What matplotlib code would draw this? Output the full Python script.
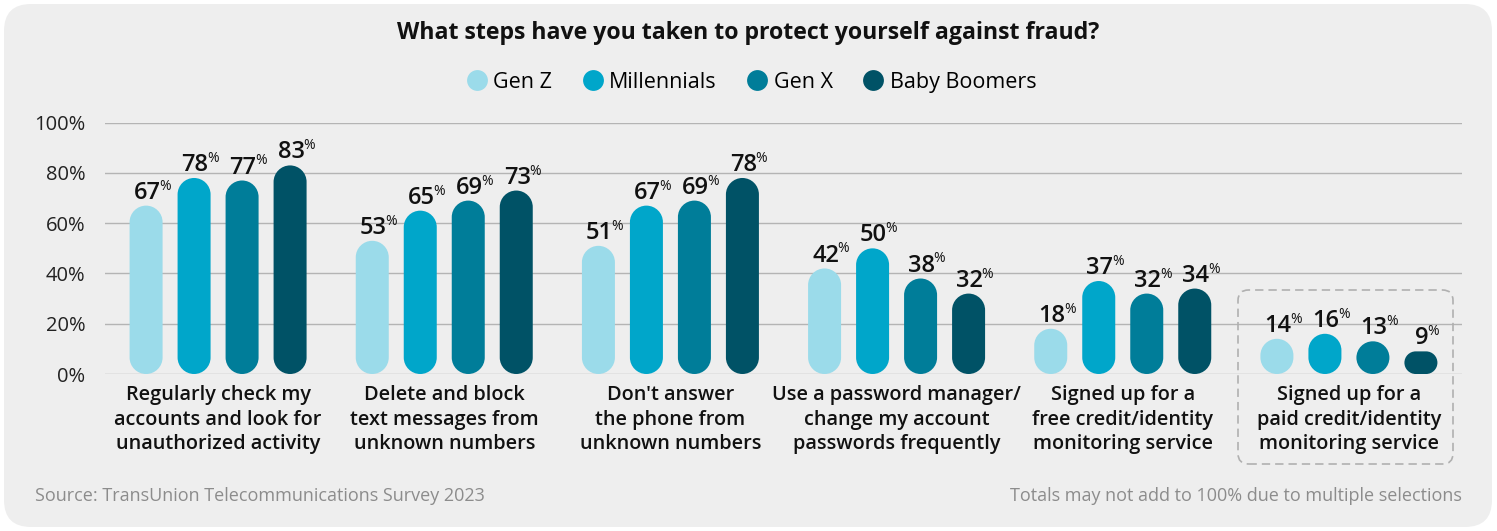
import matplotlib
matplotlib.use("Agg")
import matplotlib.pyplot as plt
from matplotlib.patches import FancyBboxPatch, PathPatch
from matplotlib.path import Path
from matplotlib.lines import Line2D

categories = [
    "Regularly check my\naccounts and look for\nunauthorized activity",
    "Delete and block\ntext messages from\nunknown numbers",
    "Don't answer\nthe phone from\nunknown numbers",
    "Use a password manager/\nchange my account\npasswords frequently",
    "Signed up for a\nfree credit/identity\nmonitoring service",
    "Signed up for a\npaid credit/identity\nmonitoring service",
]
series_names = ["Gen Z", "Millennials", "Gen X", "Baby Boomers"]
gen_z = [67, 53, 51, 42, 18, 14]
millennials = [78, 65, 67, 50, 37, 16]
gen_x = [77, 69, 69, 38, 32, 13]
boomers = [83, 73, 78, 32, 34, 9]
yticks = [0, 20, 40, 60, 80, 100]
title = "What steps have you taken to protect yourself against fraud?"
source_note = "Source: TransUnion Telecommunications Survey 2023"
totals_note = "Totals may not add to 100% due to multiple selections"

colors = ["#9bdbea", "#00a6ca", "#007d99", "#005266"]
series = [gen_z, millennials, gen_x, boomers]

W, H = 1497, 531
DPI = 100
plt.rcParams["font.family"] = ["Open Sans", "DejaVu Sans"]

fig = plt.figure(figsize=(W / DPI, H / DPI), dpi=DPI)
fig.patch.set_facecolor("white")

# light rounded panel behind everything
panel = FancyBboxPatch((4 / W, 4 / H), 1488 / W, 523 / H,
                       boxstyle="round,pad=0,rounding_size=0.018",
                       mutation_aspect=W / H,
                       transform=fig.transFigure, facecolor="#eeeeee",
                       edgecolor="none", zorder=-10)
fig.patches.append(panel)

ax_left, ax_right = 105, 1462
ax_bottom, ax_top = 374, 122.7
ax = fig.add_axes([ax_left / W, 1 - ax_bottom / H,
                   (ax_right - ax_left) / W, (ax_bottom - ax_top) / H])
ax.set_zorder(1)
ax.set_facecolor("none")
ax.set_xlim(-0.5, 5.5)
ax.set_ylim(0, 100)

ppx = (ax_right - ax_left) / 6.0      # pixels per x unit
ppy = (ax_bottom - ax_top) / 100.0    # pixels per y unit

bar_w = 33 / ppx
step = 48 / ppx
K = 0.5523  # cubic Bezier circle constant


def capsule(x0, x1, y0, y1, rx, ry):
    """Rounded bar outline with elliptical corners (circular on screen)."""
    kx, ky = K * rx, K * ry
    verts = [
        (x0, y0 + ry), (x0, y1 - ry),
        (x0, y1 - ry + ky), (x0 + rx - kx, y1), (x0 + rx, y1),
        (x1 - rx, y1),
        (x1 - rx + kx, y1), (x1, y1 - ry + ky), (x1, y1 - ry),
        (x1, y0 + ry),
        (x1, y0 + ry - ky), (x1 - rx + kx, y0), (x1 - rx, y0),
        (x0 + rx, y0),
        (x0 + rx - kx, y0), (x0, y0 + ry - ky), (x0, y0 + ry),
        (x0, y0 + ry),
    ]
    codes = ([Path.MOVETO, Path.LINETO] + [Path.CURVE4] * 3 + [Path.LINETO]
             + [Path.CURVE4] * 3 + [Path.LINETO] + [Path.CURVE4] * 3
             + [Path.LINETO] + [Path.CURVE4] * 3 + [Path.CLOSEPOLY])
    return Path(verts, codes)


for gi, vals in enumerate(zip(*series)):
    for si, v in enumerate(vals):
        xc = gi + (si - 1.5) * step
        r_px = min(33, v * ppy) / 2.0
        path = capsule(xc - bar_w / 2, xc + bar_w / 2, 0, v, r_px / ppx, r_px / ppy)
        ax.add_patch(PathPatch(path, facecolor=colors[si], edgecolor="none", zorder=3))
        t = ax.annotate(f"{v}", xy=(xc + 1.0 / ppx, v), xytext=(0, 5),
                        textcoords="offset points", ha="center", va="baseline",
                        fontsize=17, fontweight="semibold", color="#111111",
                        annotation_clip=False, zorder=5)
        ax.annotate("%", xy=(1, 1), xycoords=t, xytext=(-1.0, 1.5),
                    textcoords="offset points", ha="left", va="top",
                    fontsize=10, color="#111111", zorder=5)

ax.set_yticks(yticks)
ax.set_yticklabels([f"{y}%" for y in yticks], fontsize=14.5, color="#222222")
ax.grid(axis="y", color="#b4b4b4", linewidth=1.0, zorder=1)
ax.set_axisbelow(True)
ax.tick_params(axis="y", length=0, pad=14)
ax.set_xticks(range(len(categories)))
ax.set_xticklabels(categories, fontsize=14.3, fontweight="semibold",
                   color="#111111", linespacing=1.3)
ax.tick_params(axis="x", length=0, pad=8)
for s in ax.spines.values():
    s.set_visible(False)

# dashed frame around the paid-service group
frame = FancyBboxPatch((1238 / W, 1 - 464 / H), (1453 - 1238) / W, (464 - 290) / H,
                       boxstyle="round,pad=0,rounding_size=0.007",
                       mutation_aspect=W / H,
                       transform=fig.transFigure, facecolor="none",
                       edgecolor="#b0b0b0", linewidth=1.2, linestyle=(0, (5, 3)),
                       zorder=2)
fig.patches.append(frame)

fig.text(748 / W, 1 - 33 / H, title, ha="center", va="center",
         fontsize=16.7, fontweight="bold", color="#111111")

handles = [Line2D([], [], marker="o", linestyle="none", markersize=15,
                  markerfacecolor=c, markeredgecolor="none") for c in colors]
fig.legend(handles, series_names, loc="center", bbox_to_anchor=(750 / W, 1 - 82 / H),
           ncol=4, frameon=False, fontsize=15.5, handletextpad=0.15,
           columnspacing=1.3, handlelength=1.2)

fig.text(35 / W, 1 - 496 / H, source_note, ha="left", va="center",
         fontsize=13, color="#8c8c8c")
fig.text(1462 / W, 1 - 496 / H, totals_note, ha="right", va="center",
         fontsize=13, color="#8c8c8c")

fig.savefig("out.png", dpi=DPI, facecolor=fig.get_facecolor())
